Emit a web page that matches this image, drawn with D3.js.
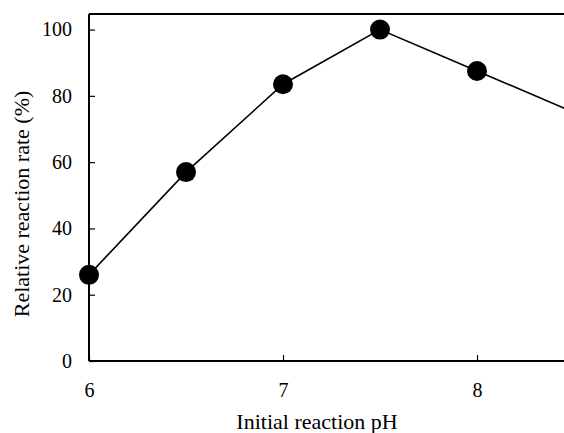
<!DOCTYPE html>
<html>
<head>
<meta charset="utf-8">
<script src="https://cdn.jsdelivr.net/npm/d3@7"></script>
<style>
  body { margin: 0; background: #fff; }
  text { font-family: "Liberation Serif", "Times New Roman", serif; fill: #000; }
</style>
</head>
<body>
<svg id="chart" width="564" height="433"></svg>
<script>
var phValues = [6, 6.5, 7, 7.5, 8, 8.5];
var rateValues = [26, 57, 83.5, 100, 87.5, 75];
var xTicks = [6, 7, 8];
var yTicks = [0, 20, 40, 60, 80, 100];

var svg = d3.select("#chart");

var plotLeft = 89, plotTop = 14, plotBottom = 361;

// x: 1 pH unit ~ 194px, plot runs past the right edge of the window
var x = d3.scaleLinear().domain([6, 8.5]).range([plotLeft, plotLeft + 2.5 * 194]);
var y = d3.scaleLinear().domain([0, 104.7]).range([plotBottom, plotTop]);

// top border
svg.append("line")
  .attr("x1", plotLeft).attr("x2", 564)
  .attr("y1", plotTop).attr("y2", plotTop)
  .attr("stroke", "#000").attr("stroke-width", 2);

var xAxis = svg.append("g")
  .attr("transform", "translate(0," + plotBottom + ")")
  .call(d3.axisBottom(x).tickValues(xTicks).tickSizeInner(-6).tickSizeOuter(0).tickFormat(d3.format("d")));
xAxis.select(".domain").attr("d", "M" + plotLeft + ",0H564").attr("stroke-width", 2);
xAxis.selectAll(".tick line").attr("stroke-width", 1.2);
xAxis.selectAll("text").attr("dy", null).attr("y", 36).style("font-size", "20px").style("font-family", "'Liberation Serif', serif");

var yAxis = svg.append("g")
  .attr("transform", "translate(" + plotLeft + ",0)")
  .call(d3.axisLeft(y).tickValues(yTicks).tickSizeInner(-6).tickSizeOuter(0));
yAxis.select(".domain").attr("d", "M0," + plotTop + "V" + plotBottom).attr("stroke-width", 2);
yAxis.selectAll(".tick line").attr("stroke-width", 1.2);
yAxis.selectAll("text").attr("x", -17).style("font-size", "20px").style("font-family", "'Liberation Serif', serif");

// line + markers
var line = d3.line()
  .x(function(d, i) { return x(phValues[i]); })
  .y(function(d) { return y(d); });

svg.append("path")
  .datum(rateValues)
  .attr("d", line)
  .attr("fill", "none")
  .attr("stroke", "#000")
  .attr("stroke-width", 1.6);

svg.selectAll(".pt")
  .data(rateValues).enter().append("circle")
  .attr("class", "pt")
  .attr("cx", function(d, i) { return x(phValues[i]); })
  .attr("cy", function(d) { return y(d); })
  .attr("r", 10)
  .attr("fill", "#000");

// axis titles
svg.append("text")
  .attr("x", 317).attr("y", 429)
  .attr("text-anchor", "middle")
  .style("font-size", "22px")
  .text("Initial reaction pH");

svg.append("text")
  .attr("transform", "translate(29,204) rotate(-90)")
  .attr("text-anchor", "middle")
  .style("font-size", "22px")
  .text("Relative reaction rate (%)");
</script>
</body>
</html>
